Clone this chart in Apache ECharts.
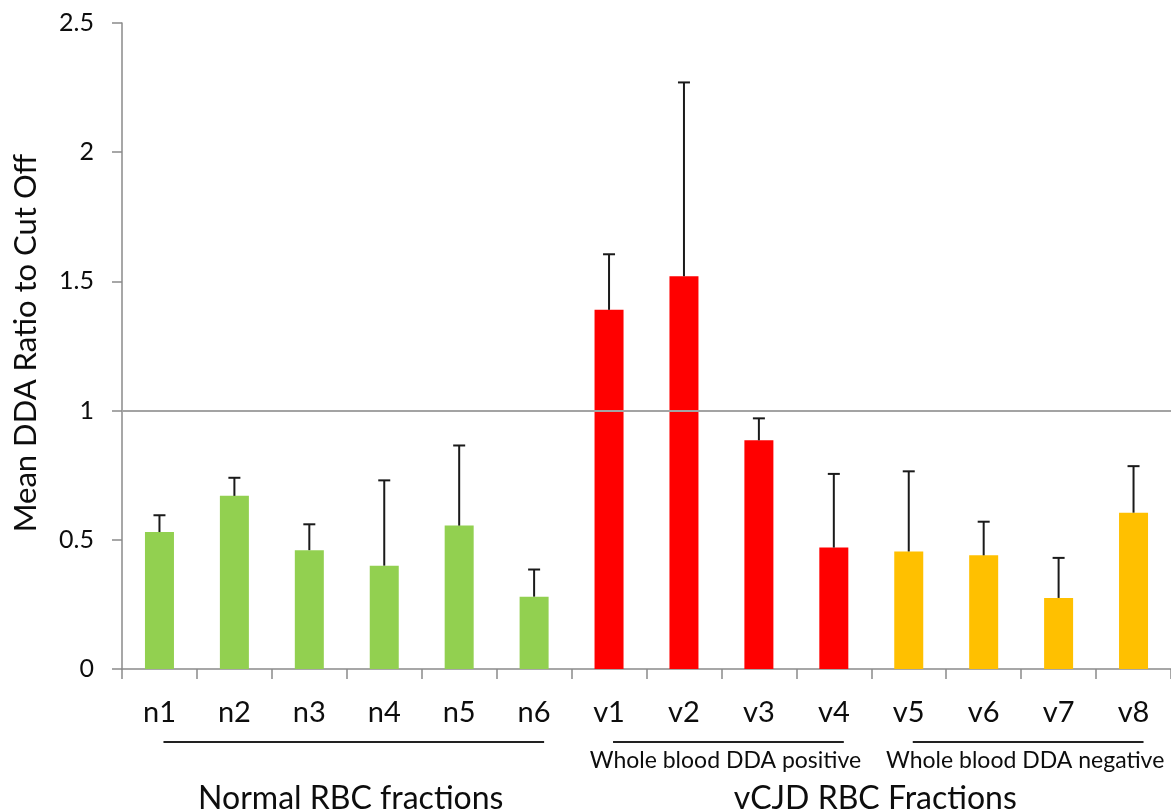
<!DOCTYPE html>
<html>
<head>
<meta charset="utf-8">
<script src="https://cdn.jsdelivr.net/npm/echarts@6/dist/echarts.min.js"></script>
<style>
  html, body { margin: 0; padding: 0; background: #ffffff; }
  #chart { width: 1171px; height: 811px; }
</style>
</head>
<body>
<div id="chart"></div>
<script>
// Samples: normal RBC fractions (n) and vCJD RBC fractions (v)
const categories = ['n1', 'n2', 'n3', 'n4', 'n5', 'n6', 'v1', 'v2', 'v3', 'v4', 'v5', 'v6', 'v7', 'v8'];
// Mean DDA ratio to cut off, and the upper error (added on top of the mean)
const meanRatio = [0.53, 0.67, 0.46, 0.40, 0.555, 0.28, 1.39, 1.52, 0.885, 0.47, 0.455, 0.44, 0.275, 0.605];
const errorPlus = [0.065, 0.07, 0.10, 0.33, 0.31, 0.105, 0.215, 0.75, 0.085, 0.285, 0.31, 0.13, 0.155, 0.18];
// 0 = normal, 1 = whole blood DDA positive, 2 = whole blood DDA negative
const groupOf = [0, 0, 0, 0, 0, 0, 1, 1, 1, 1, 2, 2, 2, 2];
const groupColors = ['#92D050', '#FF0000', '#FFC000'];
const cutOff = 1;
const yMin = 0, yMax = 2.5, yStep = 0.5;

// Bracketed labels under the category axis: [first index, last index, text]
const subGroups = [
  [0, 5, ''],
  [6, 9, 'Whole blood DDA positive'],
  [10, 13, 'Whole blood DDA negative']
];
const mainGroups = [
  [0, 5, 'Normal RBC fractions'],
  [6, 13, 'vCJD RBC Fractions']
];

const FONT = 'Lato, "Liberation Sans", sans-serif';
const TEXT = '#0d0d0d';
const AXIS = '#8a8a8a';

const chart = echarts.init(document.getElementById('chart'), null, { renderer: 'canvas' });

const barData = meanRatio.map((v, i) => ({
  value: v,
  itemStyle: { color: groupColors[groupOf[i]] }
}));
const errData = meanRatio.map((v, i) => [i, v, v + errorPlus[i]]);

chart.setOption({
  animation: false,
  backgroundColor: '#ffffff',
  grid: { left: 122, right: 0, top: 23, bottom: 142, containLabel: false },
  xAxis: {
    type: 'category',
    data: categories,
    axisLine: { show: true, lineStyle: { color: AXIS, width: 1.5 } },
    axisTick: { show: true, length: 10, alignWithLabel: false, lineStyle: { color: AXIS, width: 1.5 } },
    axisLabel: { color: TEXT, fontFamily: FONT, fontSize: 29, margin: 29 },
    splitLine: { show: false }
  },
  yAxis: {
    type: 'value',
    min: yMin, max: yMax, interval: yStep,
    axisLine: { show: true, lineStyle: { color: AXIS, width: 1.5 } },
    axisTick: { show: true, length: 10, inside: false, lineStyle: { color: AXIS, width: 1.5 } },
    axisLabel: { color: TEXT, fontFamily: FONT, fontSize: 25, margin: 28 },
    splitLine: { show: false }
  },
  series: [
    {
      type: 'bar',
      data: barData,
      barWidth: 29,
      markLine: {
        silent: true,
        symbol: 'none',
        label: { show: false },
        lineStyle: { color: '#a3a3a3', width: 2, type: 'solid' },
        data: [{ yAxis: cutOff }]
      }
    },
    {
      type: 'custom',
      data: errData,
      z: 5,
      renderItem: function (params, api) {
        const base = api.coord([api.value(0), api.value(1)]);
        const top = api.coord([api.value(0), api.value(2)]);
        const cap = 6;
        const style = { stroke: '#1a1a1a', lineWidth: 2 };
        return {
          type: 'group',
          children: [
            { type: 'line', shape: { x1: base[0], y1: base[1], x2: top[0], y2: top[1] }, style: style },
            { type: 'line', shape: { x1: top[0] - cap, y1: top[1], x2: top[0] + cap, y2: top[1] }, style: style }
          ]
        };
      }
    }
  ]
});

// Group brackets and titles below the axis, placed from the category positions
function catX(i) { return chart.convertToPixel({ xAxisIndex: 0 }, i); }
const axisY = chart.convertToPixel({ yAxisIndex: 0 }, 0);
const graphics = [];
subGroups.forEach(([a, b, label]) => {
  const x1 = catX(a) + 4, x2 = catX(b) + 10;
  graphics.push({
    type: 'line',
    shape: { x1: x1, y1: axisY + 73, x2: x2, y2: axisY + 73 },
    style: { stroke: '#222222', lineWidth: 2 }
  });
  if (label) {
    graphics.push({
      type: 'text',
      x: (catX(a) + catX(b)) / 2 + 4,
      y: axisY + 92,
      style: { text: label, fill: TEXT, font: '23px ' + FONT, align: 'center', verticalAlign: 'middle' }
    });
  }
});
mainGroups.forEach(([a, b, label]) => {
  graphics.push({
    type: 'text',
    x: (catX(a) + catX(b)) / 2 + 4,
    y: axisY + 130,
    style: { text: label, fill: TEXT, font: '32px ' + FONT, align: 'center', verticalAlign: 'middle' }
  });
});
// Value axis title
const gridTop = chart.convertToPixel({ yAxisIndex: 0 }, yMax);
graphics.push({
  type: 'text',
  x: 26,
  y: (gridTop + axisY) / 2 - 3,
  rotation: Math.PI / 2,
  style: { text: 'Mean DDA Ratio to Cut Off', fill: TEXT, font: '31px ' + FONT, align: 'center', verticalAlign: 'middle' }
});
chart.setOption({ graphic: graphics });
</script>
</body>
</html>
